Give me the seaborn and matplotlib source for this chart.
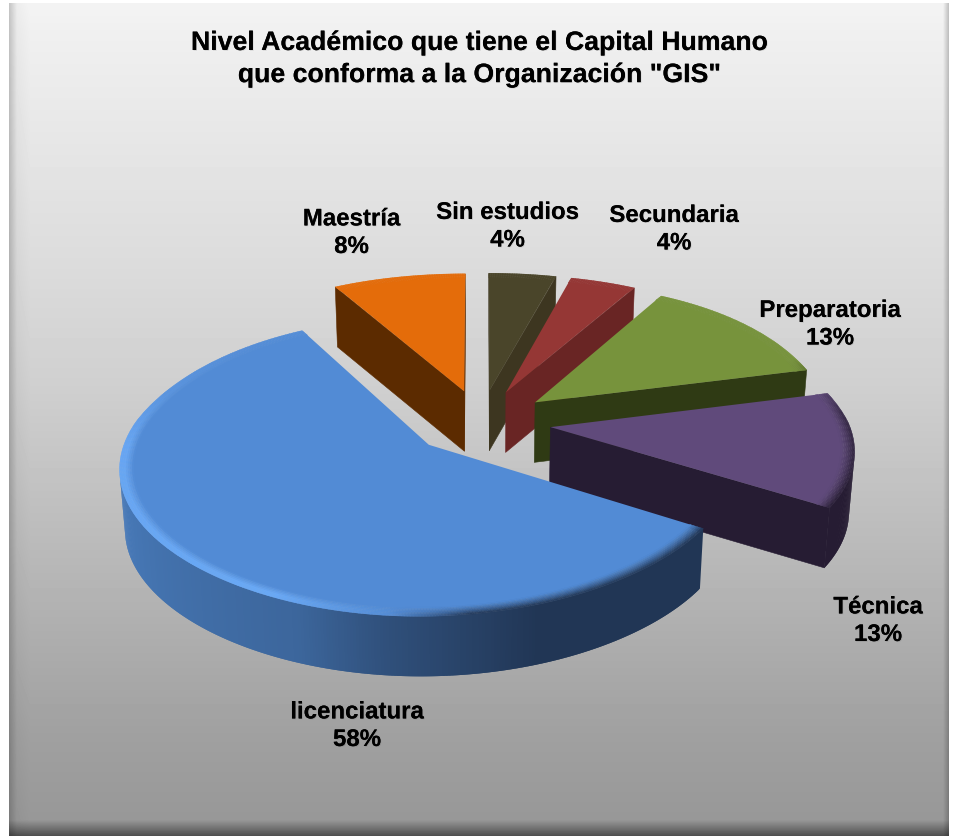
import numpy as np
import seaborn as sns
import matplotlib
matplotlib.use("Agg")
import matplotlib.pyplot as plt
import matplotlib.patheffects as pe
from matplotlib.collections import PolyCollection
from matplotlib.colors import to_rgb

# Chart data: share of staff per academic level, clockwise from twelve o'clock
levels = ["Sin estudios", "Secundaria", "Preparatoria", "Técnica", "licenciatura", "Maestría"]
shares = [4, 4, 13, 13, 58, 8]
top_colors = ["#4a452a", "#953735", "#77933c", "#604a7b", "#528bd5", "#e46c0a"]
wall_colors = ["#3d3620", "#692524", "#2f3a14", "#261c33", "#213655", "#5c2b00"]
rim_lights = ["#5a5535", "#a54745", "#87a34c", "#705a8b", "#68a8f7", "#f07c1a"]
title_text = 'Nivel Académico que tiene el Capital Humano\nque conforma a la Organización "GIS"'
label_anchor = [(507.5, 226.5), (674, 229.5), (830, 324.5), (878, 621), (357, 726), (351.5, 233)]

# Projection of the tilted pie
CX, CY = 481.0, 422.0
RADIUS = 298.0
EXPLODE = 70.0
TILT = 0.466
PERSP_TILT = 0.1224
DEPTH = 60.0

sns.set_theme(style="white")
plt.rcParams["font.family"] = ["Liberation Sans", "DejaVu Sans"]
plt.rcParams["text.hinting"] = "no_hinting"


def project(x, y, z=0.0):
    v = np.asarray(y) / RADIUS
    # horizontal foreshortening, stronger towards the viewer
    sx = np.where(v < 0, 1.0 / (1.0 + 0.14 * v), 1.0 - 0.163 * v + 0.07 * v ** 2)
    sy = 1.0 / (1.0 + PERSP_TILT * v) + np.where(v < 0, 0.0256 * np.abs(v) ** 3, 0.0)
    return CX + np.asarray(x) * sx * (1 - 0.00025 * z), CY - TILT * np.asarray(y) * sy + z


def blend(a, b, t):
    a, b = np.array(to_rgb(a)), np.array(to_rgb(b))
    return tuple(a + (b - a) * float(np.clip(t, 0, 1)))


def signed_area(xs, ys):
    return 0.5 * np.sum(xs * np.roll(ys, -1) - np.roll(xs, -1) * ys)


def rim_shade(theta):
    # negative darkens the bevel towards the wall, positive catches the light
    return np.interp(theta, [0, 70, 85, 125, 172, 186, 205, 270, 292, 315, 360],
                     [0, 0, -0.8, -1, -1, 0.1, 1, 0.9, 0.3, 0.08, 0])


def wall_mix(theta):
    return np.interp(theta, [120, 160, 185, 200, 270, 340], [0, 0, 0.35, 0.65, 1, 1])


fig = plt.figure(figsize=(9.57, 8.36), dpi=100, facecolor="white")
ax = fig.add_axes([0, 0, 1, 1])
ax.axis("off")

# Panel background with a vertical grey ramp and soft inner edges
gy = np.arange(3, 836) + 0.5
gx = np.arange(9, 949) + 0.5
ramp = np.interp(gy, [3, 30, 260, 380, 590, 736, 836], [244, 240, 220, 208, 180, 160, 150]) / 255
shade = np.outer(ramp, np.ones_like(gx))
shade *= np.interp(gx, [9, 17, 30, 943, 949], [0.80, 0.97, 1, 1, 0.78])[None, :]
shade *= np.interp(gy, [3, 820, 836], [1, 1, 0.52])[:, None]
ax.imshow(shade, cmap="gray", vmin=0, vmax=1, extent=(9, 949, 836, 3), aspect="auto",
          interpolation="bilinear", zorder=0)
ax.set_xlim(0, 957)
ax.set_ylim(836, 0)

edges = np.concatenate([[0], np.cumsum(shares)]) / np.sum(shares) * 360.0


def draw_slice(i, base_z):
    a0, a1 = edges[i], edges[i + 1]
    mid = np.radians((a0 + a1) / 2)
    ox, oy = EXPLODE * np.sin(mid), EXPLODE * np.cos(mid)
    thetas = np.linspace(a0, a1, max(int(a1 - a0) + 1, 4) * 2)
    rad = np.radians(thetas)

    def rim(r):
        return ox + r * RADIUS * np.sin(rad), oy + r * RADIUS * np.cos(rad)

    # Flat cut faces on both radial edges
    for ang, sign in ((a0, -1), (a1, 1)):
        px = ox + RADIUS * np.sin(np.radians(ang))
        py = oy + RADIUS * np.cos(np.radians(ang))
        tx, ty = project(np.array([ox, px]), np.array([oy, py]), 0.0)
        bx, by = project(np.array([ox, px]), np.array([oy, py]), DEPTH)
        qx, qy = np.array([tx[0], tx[1], bx[1], bx[0]]), np.array([ty[0], ty[1], by[1], by[0]])
        if signed_area(qx, qy) * sign > 0:
            ax.fill(qx, qy, color=wall_colors[i], lw=0.4, zorder=base_z)

    # Curved outer wall, only where it faces the viewer; each strip overlaps
    # the next one so no seams show through the antialiasing
    ox_r, oy_r = rim(1.0)
    tx, ty = project(ox_r, oy_r, 0.0)
    bx, by = project(ox_r, oy_r, DEPTH)
    quads, cols = [], []
    last = len(thetas) - 1
    for j in range(last):
        n = min(j + 2, last)
        qx = np.array([tx[j], tx[n], bx[n], bx[j]])
        qy = np.array([ty[j], ty[n], by[n], by[j]])
        if signed_area(qx, qy) > 0:
            continue
        quads.append(np.column_stack([qx, qy]))
        cols.append(blend(wall_colors[i], "#4b80c2" if i == 4 else wall_colors[i],
                          wall_mix((thetas[j] + thetas[j + 1]) / 2)))
    if quads:
        ax.add_collection(PolyCollection(quads[::-1], facecolors=cols[::-1], edgecolors="none",
                                         zorder=base_z + 0.1))

    # Top face
    rx, ry = rim(0.96)
    xs, ys = project(np.concatenate([[ox], rx]), np.concatenate([[oy], ry]))
    ax.fill(xs, ys, color=top_colors[i], lw=0, zorder=base_z + 0.2)

    # Bevel ring around the outer edge of the top face
    radii = np.linspace(0.955, 1.0, 8)
    quads, cols = [], []
    for k in range(len(radii) - 1):
        ix, iy = project(*rim(radii[k]))
        ux, uy = project(*rim(radii[k + 1]))
        frac = (k + 0.5) / (len(radii) - 1)
        for j in range(len(thetas) - 1):
            th = (thetas[j] + thetas[j + 1]) / 2
            v = float(rim_shade(th))
            if v >= 0:
                c = blend(top_colors[i], rim_lights[i], v * min(frac * 1.6, 1.0))
            else:
                c = blend(top_colors[i], wall_colors[i], -v * frac ** 1.3)
            quads.append(np.column_stack([[ix[j], ix[j + 1], ux[j + 1], ux[j]],
                                          [iy[j], iy[j + 1], uy[j + 1], uy[j]]]))
            cols.append(c)
    ax.add_collection(PolyCollection(quads, facecolors=cols, edgecolors=cols,
                                     linewidths=0.3, zorder=base_z + 0.3))


# Paint from the back of the pie towards the viewer
order = np.argsort([-np.cos(np.radians((edges[i] + edges[i + 1]) / 2)) for i in range(len(shares))])
for n, i in enumerate(order):
    draw_slice(i, 2 + n)

soft_shadow = [pe.withSimplePatchShadow(offset=(0.6, -0.6), shadow_rgbFace="black", alpha=0.1),
               pe.Normal()]
ax.text(479, 59, title_text, ha="center", va="center", fontsize=19.2, fontweight="bold",
        color="black", linespacing=1.34, zorder=30, path_effects=soft_shadow)
for name, val, (lx, ly) in zip(levels, shares, label_anchor):
    ax.text(lx, ly, f"{name}\n{val}%", ha="center", va="center", fontsize=17.3,
            fontweight="bold", color="black", linespacing=1.3, zorder=30,
            path_effects=soft_shadow)

fig.savefig("out.png", dpi=100, facecolor="white")
